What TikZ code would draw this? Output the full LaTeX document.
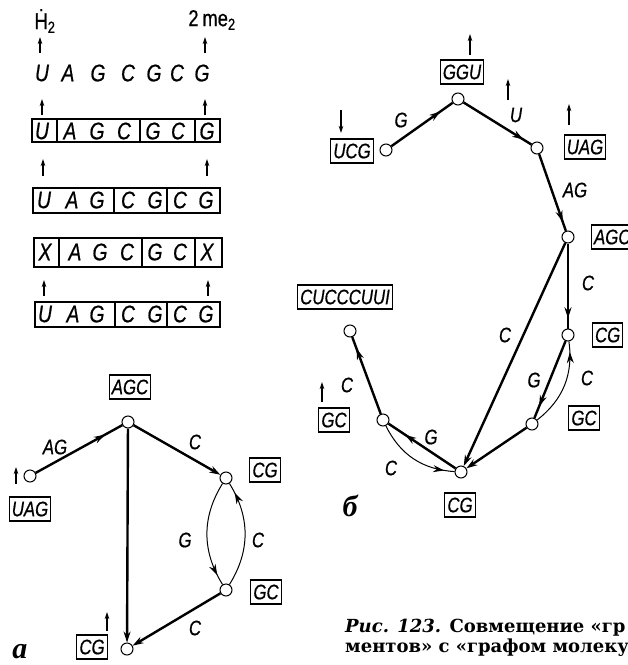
\documentclass[tikz,border=0pt]{standalone}
\usepackage{fontspec}
\usetikzlibrary{arrows.meta,decorations.markings}
\newfontfamily\nuclfont[FakeStretch=0.8,FakeBold=0.6]{Liberation Sans}
\newfontfamily\capfont{DejaVu Serif}
\newfontfamily\panelfont{Liberation Serif}

\tikzset{
	nuc/.style={font=\nuclfont\itshape\fontsize{24}{24}\selectfont, inner sep=0pt},
	lab/.style={draw, line width=1.1pt, font=\nuclfont\itshape\fontsize{21}{21}\selectfont,
		inner xsep=2.5pt, inner ysep=0pt, minimum height=24pt},
	vert/.style={circle, draw, line width=1pt, fill=white, inner sep=0pt, minimum size=12pt},
	bond/.style={line width=2.4pt},
	arcline/.style={line width=1pt},
	midarr/.style={postaction={decorate}, decoration={markings,
		mark=at position #1 with {\arrow{Stealth[length=11pt,width=7pt]}}}},
	endarr/.style={-{Stealth[length=11pt,width=7pt]}},
	tick/.style={-{Stealth[length=7pt,width=4.5pt]}, line width=1.1pt},
	elab/.style={font=\nuclfont\itshape\fontsize{21}{21}\selectfont, inner sep=0pt},
	panel/.style={font=\panelfont\bfseries\itshape\fontsize{30}{30}\selectfont, inner sep=0pt}
}

\begin{document}
\begin{tikzpicture}[x=1pt, y=-1pt]
	\useasboundingbox (0,0) rectangle (628,665);
	\clip (0,0) rectangle (628,665);

	% sequence rows
	\node[font=\nuclfont\fontsize{23}{23}\selectfont, inner sep=0pt] (htop) at (45,21) {\.{H}\textsubscript{2}};
	\node[font=\nuclfont\fontsize{23}{23}\selectfont, inner sep=0pt] (metop) at (212,20) {2\,me\textsubscript{2}};
	\draw[tick] (40,53) -- (40,37);
	\draw[tick] (205,53) -- (205,37);
	\foreach \x/\l in {42/U,68/A,98/G,128/C,154/G,177/C,202/G}
		\node[nuc] at (\x,73) {\l};
	\draw[tick] (42,115) -- (42,99);
	\draw[tick] (205,115) -- (205,99);

	\draw[line width=1.3pt] (32,119) rectangle (220,142);
	\foreach \x in {57,140,195} \draw[line width=1.3pt] (\x,119) -- (\x,142);
	\foreach \x/\l in {42/U,70/A,97/G,124/C,153/G,178/C,207/G}
		\node[nuc] at (\x,131) {\l};
	\draw[tick] (43,176) -- (43,159);
	\draw[tick] (207,176) -- (207,159);

	\draw[line width=1.3pt] (33,188) rectangle (220,213);
	\foreach \x in {114,167} \draw[line width=1.3pt] (\x,188) -- (\x,213);
	\foreach \x/\l in {44/U,72/A,97/G,128/C,155/G,180/C,206/G}
		\node[nuc] at (\x,200) {\l};

	\draw[line width=1.3pt] (34,238) rectangle (222,267);
	\foreach \x in {59,142,195} \draw[line width=1.3pt] (\x,238) -- (\x,267);
	\foreach \x/\l in {45/X,75/A,100/G,127/C,155/G,180/C,207/X}
		\node[nuc] at (\x,252) {\l};
	\draw[tick] (44,296) -- (44,280);
	\draw[tick] (208,296) -- (208,280);

	\draw[line width=1.3pt] (35,302) rectangle (220,327);
	\foreach \x in {115,167} \draw[line width=1.3pt] (\x,302) -- (\x,327);
	\foreach \x/\l in {45/U,73/A,97/G,128/C,155/G,180/C,206/G}
		\node[nuc] at (\x,314) {\l};

	% graph a
	\node[vert] (a1) at (30,476) {};
	\node[vert] (a2) at (128,422) {};
	\node[vert] (a3) at (226,478) {};
	\node[vert] (a4) at (226,590) {};
	\node[vert] (a5) at (127,649) {};

	\draw[bond, midarr=0.8] (a1) -- (a2);
	\draw[bond, endarr] (a2) -- (a3);
	\draw[bond, endarr] (a2) -- (a5);
	\draw[arcline, midarr=0.9] (a3) to[bend right=32] (a4);
	\draw[arcline, midarr=0.9] (a4) to[bend right=32] (a3);
	\draw[bond, endarr] (a4) -- (a5);

	\node[lab] (agca) at (130,387) {AGC};
	\node[lab] (cga) at (265,470) {CG};
	\node[lab] (uaga) at (30,509) {UAG};
	\node[lab] (gca) at (266,592) {GC};
	\node[lab] (cgb) at (92,647) {CG};
	\draw[tick] (16,484) -- (16,467);
	\draw[tick] (107,631) -- (107,612);

	\node[elab] at (55,447) {AG};
	\node[elab] at (195,442) {C};
	\node[elab] at (185,540) {G};
	\node[elab] at (258,540) {C};
	\node[elab] at (195,628) {C};
	\node[panel] (pa) at (20,652) {а};

	% graph b
	\node[vert] (b1) at (386,150) {};
	\node[vert] (b2) at (458,99) {};
	\node[vert] (b3) at (537,148) {};
	\node[vert] (b4) at (568,237) {};
	\node[vert] (b5) at (568,335) {};
	\node[vert] (b6) at (532,424) {};
	\node[vert] (b7) at (461,472) {};
	\node[vert] (b8) at (383,420) {};
	\node[vert] (b9) at (350,331) {};

	\draw[bond, midarr=0.8] (b1) -- (b2);
	\draw[bond, midarr=0.88] (b2) -- (b3);
	\draw[bond, midarr=0.88] (b3) -- (b4);
	\draw[bond, midarr=0.88] (b4) -- (b5);
	\draw[bond, endarr] (b4) -- (b7);
	\draw[bond, midarr=0.85] (b5) -- (b6);
	\draw[arcline, midarr=0.88] (b6) to[bend right=30] (b5);
	\draw[bond, endarr] (b6) -- (b7);
	\draw[bond, midarr=0.75] (b7) -- (b8);
	\draw[arcline, midarr=0.88] (b8) to[bend right=30] (b7);
	\draw[bond, midarr=0.85] (b8) -- (b9);

	\node[lab] (ucgb) at (352,151) {UCG};
	\node[lab] (ggub) at (462,72) {GGU};
	\node[lab] (uagb) at (585,147) {UAG};
	\node[lab, anchor=west] (agcb) at (591,237) {AGC};
	\node[lab, anchor=west] (cgc) at (592,335) {CG};
	\node[lab] (gcb) at (584,418) {GC};
	\node[lab] (cgd) at (460,505) {CG};
	\node[lab] (gcc) at (334,420) {GC};
	\node[lab] (endb) at (345,297) {CUCCCUUI};
	\draw[tick] (341,110) -- (341,133);
	\draw[tick] (470,55) -- (470,34);
	\draw[tick] (508,100) -- (508,79);
	\draw[tick] (569,125) -- (569,104);
	\draw[tick] (322,402) -- (322,382);

	\node[elab] at (401,120) {G};
	\node[elab] at (516,115) {U};
	\node[elab] at (575,190) {AG};
	\node[elab] at (588,283) {C};
	\node[elab] at (505,335) {C};
	\node[elab] at (534,380) {G};
	\node[elab] at (587,378) {C};
	\node[elab] at (347,385) {C};
	\node[elab] at (431,437) {G};
	\node[elab] at (391,468) {C};
	\node[panel] (pb) at (350,506) {б};

	% caption
	\node[anchor=north west, align=left, inner sep=0pt,
		font=\capfont\bfseries\fontsize{18}{20}\selectfont] (capt) at (345,619)
		{\textit{Рис. 123.} Совмещение «гр\\ментов» с «графом молеку};
\end{tikzpicture}
\end{document}
